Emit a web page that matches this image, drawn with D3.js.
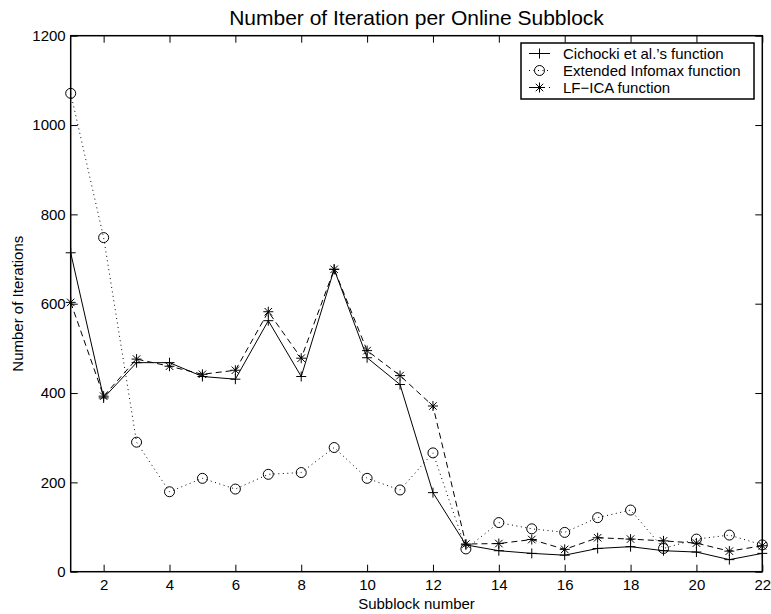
<!DOCTYPE html>
<html>
<head>
<meta charset="utf-8">
<script src="https://cdn.jsdelivr.net/npm/d3@7.9.0/dist/d3.min.js"></script>
<style>
  body { margin: 0; background: #fff; }
  svg { display: block; font-family: "Liberation Sans", Arial, sans-serif; }
  .axis path, .axis line { stroke: #000; }
  .axis text { fill: #000; }
</style>
</head>
<body>
<svg id="chart" width="771" height="614"></svg>
<script>
// Data
const blocks = d3.range(1, 23);
const cichocki = [714, 389, 468, 468, 437, 431, 562, 437, 677, 479, 419, 177, 60, 47, 41, 37, 52, 56, 47, 44, 27, 41];
const infomax  = [1071, 748, 290, 179, 209, 185, 218, 222, 278, 209, 183, 266, 51, 110, 96, 88, 121, 138, 52, 73, 82, 60];
const lfica    = [603, 393, 476, 460, 442, 451, 582, 478, 677, 495, 439, 371, 62, 63, 72, 50, 76, 73, 69, 64, 46, 58];
const xTicks = [2, 4, 6, 8, 10, 12, 14, 16, 18, 20, 22];
const yTicks = [0, 200, 400, 600, 800, 1000, 1200];

const series = [
  { name: "Cichocki et al.\u2019s function", values: cichocki, dash: null, marker: "plus" },
  { name: "Extended Infomax function", values: infomax, dash: "1,3.5", marker: "circle" },
  { name: "LF\u2212ICA function", values: lfica, dash: "6,4", marker: "star" },
];

const svg = d3.select("#chart");
const area = { left: 70.7, right: 762.3, top: 35.7, bottom: 571.7 };

const x = d3.scaleLinear().domain([1, 22]).range([area.left, area.right]);
const y = d3.scaleLinear().domain([0, 1200]).range([area.bottom, area.top]);

const tickLen = 7;

// axes with inward ticks on all four sides
svg.append("g").attr("class", "axis")
  .attr("transform", `translate(0,${area.bottom})`)
  .call(d3.axisBottom(x).tickValues(xTicks).tickSizeInner(-tickLen).tickSizeOuter(0).tickPadding(8))
  .call(g => g.selectAll("text").attr("font-size", 15));

svg.append("g").attr("class", "axis")
  .attr("transform", `translate(0,${area.top})`)
  .call(d3.axisTop(x).tickValues(xTicks).tickSizeInner(-tickLen).tickSizeOuter(0).tickFormat(""));

svg.append("g").attr("class", "axis")
  .attr("transform", `translate(${area.left},0)`)
  .call(d3.axisLeft(y).tickValues(yTicks).tickSizeInner(-tickLen).tickSizeOuter(0).tickPadding(5).tickFormat(d3.format("d")))
  .call(g => g.selectAll("text").attr("font-size", 15));

svg.append("g").attr("class", "axis")
  .attr("transform", `translate(${area.right},0)`)
  .call(d3.axisRight(y).tickValues(yTicks).tickSizeInner(-tickLen).tickSizeOuter(0).tickFormat(""));

svg.selectAll(".axis .domain").remove();

// frame
svg.append("rect")
  .attr("x", area.left).attr("y", area.top)
  .attr("width", area.right - area.left).attr("height", area.bottom - area.top)
  .attr("fill", "none").attr("stroke", "#000").attr("stroke-width", 1.5);

// marker drawing
function drawMarker(g, type, cx, cy) {
  const s = 5;
  if (type === "plus") {
    g.append("path")
      .attr("d", `M${cx - s},${cy}H${cx + s}M${cx},${cy - s}V${cy + s}`)
      .attr("stroke", "#000").attr("stroke-width", 1).attr("fill", "none");
  } else if (type === "circle") {
    g.append("circle").attr("cx", cx).attr("cy", cy).attr("r", 5)
      .attr("stroke", "#000").attr("stroke-width", 1).attr("fill", "none");
  } else {
    const d = s * 0.75;
    g.append("path")
      .attr("d", `M${cx - s},${cy}H${cx + s}M${cx},${cy - s}V${cy + s}` +
                 `M${cx - d},${cy - d}L${cx + d},${cy + d}M${cx - d},${cy + d}L${cx + d},${cy - d}`)
      .attr("stroke", "#000").attr("stroke-width", 1).attr("fill", "none");
  }
}

const line = d3.line().x((d, i) => x(blocks[i])).y(d => y(d));

series.forEach(s => {
  const g = svg.append("g");
  g.append("path")
    .datum(s.values)
    .attr("d", line)
    .attr("fill", "none")
    .attr("stroke", "#000")
    .attr("stroke-width", 1)
    .attr("stroke-dasharray", s.dash);
  s.values.forEach((v, i) => drawMarker(g, s.marker, x(blocks[i]), y(v)));
});

// legend
const lg = { left: 521, right: 754, top: 43, bottom: 99, row0: 53.5, rowH: 17 };
svg.append("rect")
  .attr("x", lg.left).attr("y", lg.top)
  .attr("width", lg.right - lg.left).attr("height", lg.bottom - lg.top)
  .attr("fill", "#fff").attr("stroke", "#000").attr("stroke-width", 1.5);

series.forEach((s, i) => {
  const cy = lg.row0 + i * lg.rowH;
  const g = svg.append("g");
  g.append("line")
    .attr("x1", 529).attr("x2", 550).attr("y1", cy).attr("y2", cy)
    .attr("stroke", "#000").attr("stroke-width", 1)
    .attr("stroke-dasharray", s.dash);
  drawMarker(g, s.marker, 539.5, cy);
  g.append("text")
    .attr("x", 563).attr("y", cy).attr("dy", "0.35em")
    .attr("font-size", 15)
    .text(s.name);
});

// title and axis labels
svg.append("text")
  .attr("x", (area.left + area.right) / 2).attr("y", 25)
  .attr("text-anchor", "middle").attr("font-size", 21)
  .text("Number of Iteration per Online Subblock");

svg.append("text")
  .attr("x", (area.left + area.right) / 2).attr("y", 609)
  .attr("text-anchor", "middle").attr("font-size", 15)
  .text("Subblock number");

svg.append("text")
  .attr("transform", `translate(23,${(area.top + area.bottom) / 2}) rotate(-90)`)
  .attr("text-anchor", "middle").attr("font-size", 15)
  .text("Number of Iterations");
</script>
</body>
</html>
